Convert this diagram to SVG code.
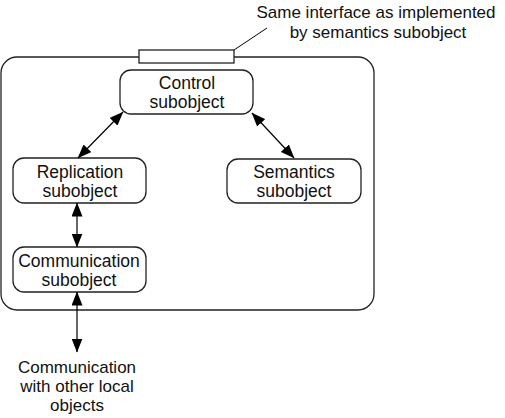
<svg xmlns="http://www.w3.org/2000/svg" width="505" height="418" viewBox="0 0 505 418">
<defs>
<marker id="ah" viewBox="0 0 14 11" refX="13.5" refY="5.5" markerWidth="14" markerHeight="11" markerUnits="userSpaceOnUse" orient="auto-start-reverse">
<path d="M0,0 L14,5.5 L0,11 Z" fill="#000"/>
</marker>
</defs>
<style>
.box{fill:#fff;stroke:#222;stroke-width:1.3}
.t{font-family:"Liberation Sans",Arial,sans-serif;font-size:17.5px;fill:#111;text-anchor:middle}
.c{stroke:#000;stroke-width:1.2;fill:none;marker-start:url(#ah);marker-end:url(#ah)}
</style>
<rect id="container" x="1" y="57" width="373" height="253" rx="16" ry="16" fill="none" stroke="#222" stroke-width="1.3"/>
<g id="interface">
<rect x="139" y="50" width="95" height="13" fill="#fff" stroke="#222" stroke-width="1.3"/>
<line x1="234" y1="50" x2="267" y2="28" stroke="#000" stroke-width="1"/>
<text class="t" x="376" y="18" style="font-size:17px">Same interface as implemented</text>
<text class="t" x="378" y="38" style="font-size:17px">by semantics subobject</text>
</g>
<g id="control">
<rect class="box" x="120" y="70" width="133" height="44" rx="11"/>
<text class="t" x="187" y="89">Control</text>
<text class="t" x="187" y="108">subobject</text>
</g>
<g id="replication">
<rect class="box" x="13" y="158" width="133" height="45" rx="11"/>
<text class="t" x="80" y="178">Replication</text>
<text class="t" x="80" y="197">subobject</text>
</g>
<g id="semantics">
<rect class="box" x="227" y="159" width="134" height="44" rx="11"/>
<text class="t" x="294" y="178">Semantics</text>
<text class="t" x="294" y="197">subobject</text>
</g>
<g id="communication">
<rect class="box" x="13" y="247" width="133" height="45" rx="11"/>
<text class="t" x="79" y="267">Communication</text>
<text class="t" x="79" y="286">subobject</text>
</g>
<g id="external">
<text class="t" x="77" y="373" style="font-size:17px">Communication</text>
<text class="t" x="77" y="392" style="font-size:17px">with other local</text>
<text class="t" x="77" y="411" style="font-size:17px">objects</text>
</g>
<g id="connectors">
<line class="c" x1="123" y1="112" x2="78" y2="158"/>
<line class="c" x1="252" y1="113" x2="294" y2="158"/>
<line class="c" x1="77" y1="203" x2="77" y2="247"/>
<line class="c" x1="77" y1="292" x2="77" y2="352"/>
</g>
</svg>
